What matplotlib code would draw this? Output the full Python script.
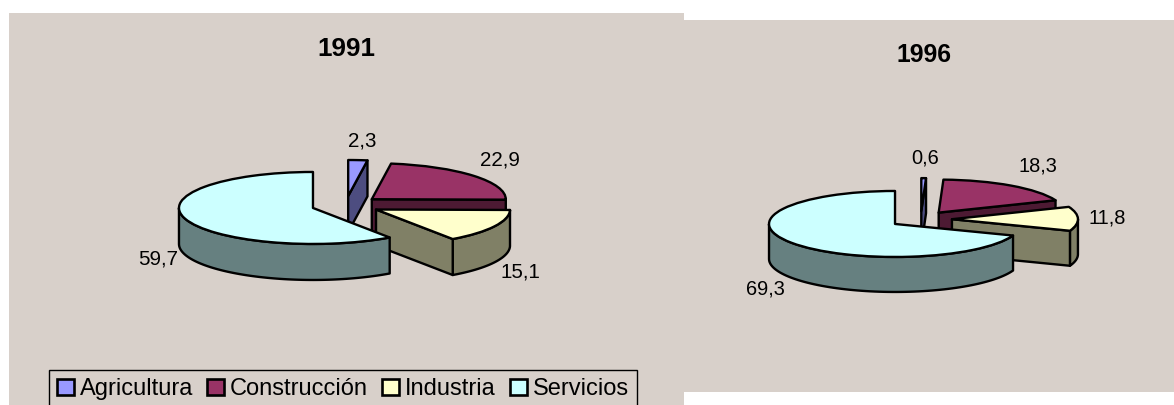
import matplotlib
matplotlib.use("Agg")
import numpy as np
import matplotlib.pyplot as plt
from matplotlib.patches import Patch, Polygon

plt.rcParams['font.family'] = ['Liberation Sans', 'DejaVu Sans']

W, H = 1174, 405
categories = ["Agricultura", "Construcción", "Industria", "Servicios"]
values_1991 = [2.3, 22.9, 15.1, 59.7]
values_1996 = [0.6, 18.3, 11.8, 69.3]
labels_1991 = ["2,3", "22,9", "15,1", "59,7"]
labels_1996 = ["0,6", "18,3", "11,8", "69,3"]
colors = ["#9999FF", "#993366", "#FFFFCC", "#CCFFFF"]
side_colors = ["#4D4D80", "#4D1A33", "#808066", "#668080"]
BG = "#D8D0CA"
draw_order = [1, 0, 2, 3]


def px_axes(box, cx, cy, rx, ry):
    x0, y0, x1, y1 = box
    ax = fig.add_axes([x0 / W, 1 - y1 / H, (x1 - x0) / W, (y1 - y0) / H])
    return ax, ((x0 - cx) / rx, (x1 - cx) / rx), ((cy - y1) / ry, (cy - y0) / ry)


def pie3d(box, cx, cy, rx, ry, depth_px, expl, values, labels, label_px, title, title_px, tsize, lsize):
    ax, xl, yl = px_axes(box, cx, cy, rx, ry)
    wedges, _ = ax.pie(values, colors=colors, explode=[expl] * 4, startangle=90,
                       counterclock=False, radius=1, frame=True,
                       wedgeprops=dict(edgecolor="black", linewidth=1.7, joinstyle="round"))
    ax.set_aspect("auto")
    ax.set_xlim(*xl)
    ax.set_ylim(*yl)
    ax.set_facecolor(BG)
    ax.set_xticks([])
    ax.set_yticks([])
    for s in ax.spines.values():
        s.set_visible(False)
    d = depth_px / ry
    for rank, i in enumerate(draw_order):
        w = wedges[i]
        c = np.array(w.center)
        a1, a2 = w.theta1, w.theta2  # counter-clockwise degrees, all within (-360, 90]
        w.set_zorder(10 + rank * 3 + 2)
        kw = dict(facecolor=side_colors[i], edgecolor="black", linewidth=1.7,
                  joinstyle="round", zorder=10 + rank * 3)
        # outer rim: the part of the slice facing the viewer (lower half)
        lo, hi = max(a1, -180), min(a2, 0)
        if hi > lo:
            t = np.radians(np.linspace(lo, hi, 80))
            top = np.c_[c[0] + np.cos(t), c[1] + np.sin(t)]
            bot = top[::-1] - [0, d]
            ax.add_patch(Polygon(np.r_[top, bot], **kw))
        # cut face on the clockwise end of the slice, drawn if it faces the viewer
        t = np.radians(a1)
        if np.cos(t) > 0.01:
            p = c + [np.cos(t), np.sin(t)]
            ax.add_patch(Polygon([c, p, p - [0, d], c - [0, d]], **kw))
    for txt, (x, y) in zip(labels, label_px):
        fig.text(x / W, 1 - y / H, txt, ha="center", va="center", fontsize=lsize, color="black", zorder=50)
    fig.text(title_px[0] / W, 1 - title_px[1] / H, title, ha="center", va="center",
             fontsize=tsize, fontweight="bold", color="black", zorder=50)
    return ax


fig = plt.figure(figsize=(W / 100, H / 100), dpi=100, facecolor="white")

ax1 = pie3d((9, 13, 684, 405), 345.7, 205.2, 134, 36, 36, 0.256, values_1991, labels_1991,
            [(362, 141), (500, 160), (520, 272), (158, 259)], "1991", (346, 49), 18.7, 14.8)
ax2 = pie3d((684, 20, 1174, 392), 920.7, 219.3, 126, 33, 35, 0.248, values_1996, labels_1996,
            [(925, 158), (1038, 166), (1107, 218), (765, 289)], "1996", (924, 55), 17.8, 14.4)

handles = [Patch(facecolor=c, edgecolor="black", linewidth=1.9) for c in colors]
leg = fig.legend(handles, categories, loc="lower left",
                 bbox_to_anchor=(49 / W, 1 - 408 / H), ncol=4, fontsize=17,
                 frameon=True, fancybox=False, edgecolor="black", facecolor=BG,
                 framealpha=1, handlelength=0.72, handleheight=0.72, handletextpad=0.25,
                 columnspacing=0.6, borderpad=0.33, borderaxespad=0)
leg.get_frame().set_linewidth(1.0)
leg.set_zorder(60)

fig.savefig("out.png", dpi=100, facecolor="white")
